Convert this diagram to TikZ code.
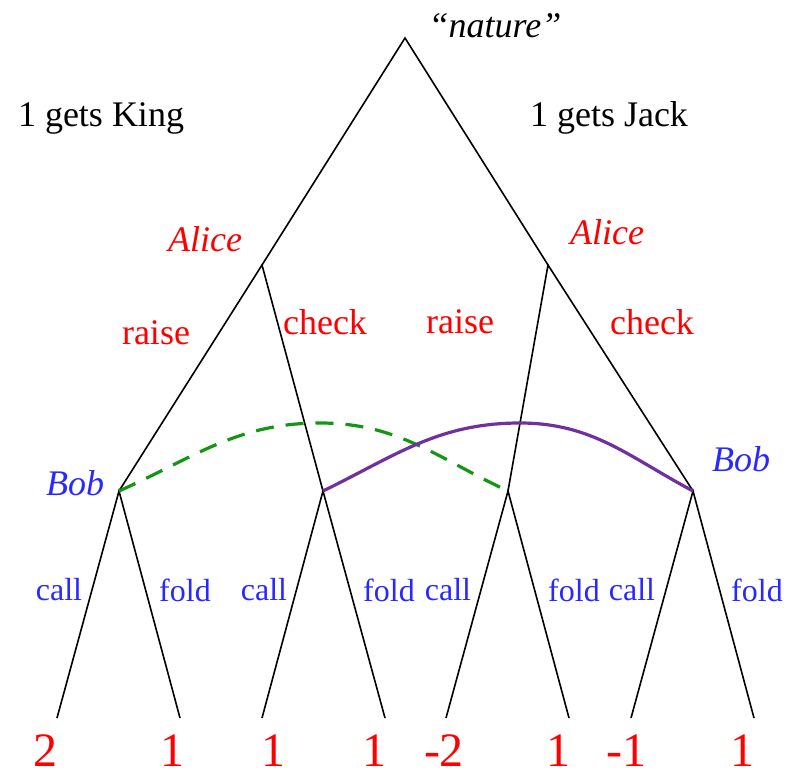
\documentclass[tikz,border=0pt]{standalone}
\usepackage{fontspec}
\setmainfont{Liberation Serif}
\definecolor{gtred}{RGB}{255,0,0}
\definecolor{gtblue}{RGB}{40,40,255}
\definecolor{gtgreen}{RGB}{20,150,20}
\definecolor{gtpurple}{RGB}{112,48,160}
\usetikzlibrary{positioning}
\tikzset{
  branch/.style={draw=black,line width=0.8pt},
  header/.style={font=\rmfamily\fontsize{18}{20}\selectfont,inner sep=0pt},
  player/.style={font=\rmfamily\fontsize{18}{20}\selectfont\itshape,inner sep=0pt},
  move/.style={font=\rmfamily\fontsize{18}{20}\selectfont,text=gtred,inner sep=0pt},
  reply/.style={font=\rmfamily\fontsize{16}{18}\selectfont,text=gtblue,inner sep=0pt},
  payoff/.style={font=\rmfamily\fontsize{24}{26}\selectfont,text=gtred,inner sep=0pt}
}

\begin{document}
\begin{tikzpicture}[x=0.5pt,y=-0.5pt]
  \useasboundingbox (0,0) rectangle (792,776);
  %% Tree points
  \coordinate (root) at (405,38);
  \coordinate (aliceK) at (262,265);
  \coordinate (aliceJ) at (548,265);
  \coordinate (bobKr) at (119,491);
  \coordinate (bobKc) at (323,491);
  \coordinate (bobJr) at (508,491);
  \coordinate (bobJc) at (693,491);
  \coordinate (peakG) at (320,423);
  \coordinate (peakP) at (520,423);
  %% Leaves
  \coordinate (l1) at (57,718);
  \coordinate (l2) at (180,718);
  \coordinate (l3) at (262,718);
  \coordinate (l4) at (385,718);
  \coordinate (l5) at (446,718);
  \coordinate (l6) at (569,718);
  \coordinate (l7) at (631,718);
  \coordinate (l8) at (754,718);
  %% Branches
  \draw[branch] (aliceK) -- (root) -- (aliceJ);
  \draw[branch] (bobKr) -- (aliceK) -- (bobKc);
  \draw[branch] (bobJr) -- (aliceJ) -- (bobJc);
  \draw[branch] (l1) -- (bobKr) -- (l2);
  \draw[branch] (l3) -- (bobKc) -- (l4);
  \draw[branch] (l5) -- (bobJr) -- (l6);
  \draw[branch] (l7) -- (bobJc) -- (l8);
  %% Information sets
  \draw[gtgreen,line width=1.6pt,dash pattern=on 9pt off 6pt]
    (bobKr) to[out=24,in=180] (peakG) to[out=0,in=155] (bobJr);
  \draw[gtpurple,line width=1.6pt]
    (bobKc) to[out=26,in=180] (peakP) to[out=0,in=152] (bobJc);
  %% Labels
  \node[player] (nature) at (495,26) {“nature”};
  \node[header] (king) at (101,118) {1 gets King};
  \node[header] (jack) at (609,118) {1 gets Jack};
  \node[player,text=gtred] (aliceKl) at (205,239) {Alice};
  \node[player,text=gtred] (aliceJl) at (607,232) {Alice};
  \node[player,text=gtblue] (bobKl) at (75,483) {Bob};
  \node[player,text=gtblue] (bobJl) at (741,459) {Bob};
  \node[move] (raiseK) at (156,333) {raise};
  \node[move] (checkK) at (325,322) {check};
  \node[move] (raiseJ) at (460,322) {raise};
  \node[move] (checkJ) at (652,322) {check};
  \node[reply] (call1) at (59,590) {call};
  \node[reply] (fold1) at (185,590) {fold};
  \node[reply] (call2) at (264,590) {call};
  \node[reply] (fold2) at (389,590) {fold};
  \node[reply] (call3) at (448,590) {call};
  \node[reply] (fold3) at (574,590) {fold};
  \node[reply] (call4) at (632,590) {call};
  \node[reply] (fold4) at (757,590) {fold};
  %% Payoffs
  \node[payoff] (p1) at (45,751) {2};
  \node[payoff] (p2) at (172,751) {1};
  \node[payoff] (p3) at (273,751) {1};
  \node[payoff] (p4) at (374,751) {1};
  \node[payoff] (p5) at (444,751) {-2};
  \node[payoff] (p6) at (558,751) {1};
  \node[payoff] (p7) at (626,751) {-1};
  \node[payoff] (p8) at (742,751) {1};
\end{tikzpicture}
\end{document}
